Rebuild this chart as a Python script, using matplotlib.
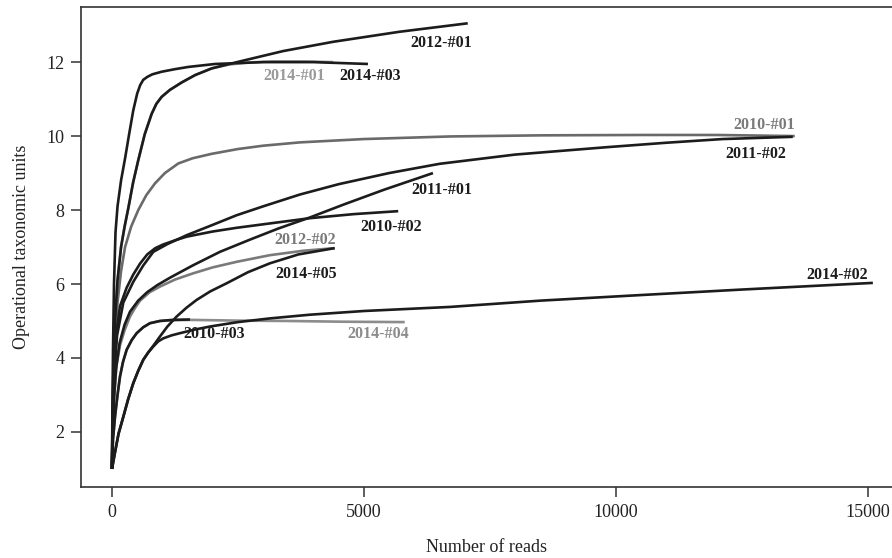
import numpy as np
import matplotlib
matplotlib.use("Agg")
import matplotlib.pyplot as plt

# ─── DATA ─────────────────────────────────────────────────────────────────────
SAMPLES = ["2014-#03", "2012-#01", "2014-#01", "2010-#01", "2011-#02", "2011-#01",
           "2010-#02", "2012-#02", "2014-#05", "2010-#03", "2014-#04", "2014-#02"]

READS = {
    "2014-#03": [0, 8, 20, 40, 70, 110, 180, 260, 340, 423, 500, 560, 620, 700, 800, 985,
                 1250, 1515, 2045, 3000, 4000, 5080],
    "2012-#01": [0, 10, 30, 60, 110, 180, 250, 324, 420, 522, 650, 787, 880, 985, 1150, 1383,
                 1650, 1978, 2540, 3400, 4390, 5700, 7060],
    "2014-#01": [0, 10, 30, 60, 110, 180, 250, 324, 420, 522, 650, 787, 880, 985, 1150, 1383,
                 1650, 1978, 2300, 2700, 3200, 3800, 4390],
    "2010-#01": [0, 10, 30, 60, 110, 180, 260, 380, 522, 680, 853, 1050, 1316, 1600, 1978,
                 2500, 3000, 3730, 5000, 6706, 8500, 10500, 12000, 13550],
    "2011-#02": [0, 15, 40, 100, 225, 423, 620, 820, 1100, 1482, 2000, 2474, 3000, 3730,
                 4500, 5500, 6500, 8000, 9820, 11000, 12120, 13510],
    "2011-#01": [0, 15, 40, 80, 150, 250, 357, 520, 700, 900, 1151, 1600, 2143, 2738, 3300,
                 3929, 4600, 5400, 6370],
    "2010-#02": [0, 15, 40, 90, 159, 291, 420, 556, 700, 860, 1018, 1250, 1482, 2000, 2474,
                 3200, 3929, 4800, 5680],
    "2012-#02": [0, 15, 40, 90, 160, 250, 357, 456, 556, 750, 952, 1250, 1613, 2000, 2474,
                 3135, 3800, 4420],
    "2014-#05": [0, 60, 130, 225, 320, 423, 520, 621, 720, 820, 952, 1100, 1283, 1480, 1680,
                 1950, 2276, 2700, 3135, 3700, 4420],
    "2010-#03": [0, 20, 60, 110, 159, 220, 291, 390, 490, 620, 754, 950, 1200, 1548],
    "2014-#04": [0, 20, 60, 110, 159, 220, 291, 390, 490, 620, 754, 950, 1200, 1548, 2500,
                 3500, 4600, 5810],
    "2014-#02": [0, 60, 130, 225, 320, 423, 520, 621, 720, 820, 920, 1018, 1180, 1349, 1650,
                 1944, 2500, 3135, 3929, 5000, 6706, 8500, 10480, 12500, 15100],
}

OTUS = {
    "2014-#03": [1, 2.5, 4.2, 6.0, 7.4, 8.1, 8.8, 9.4, 10.05, 10.7, 11.15, 11.38, 11.52, 11.6,
                 11.67, 11.74, 11.81, 11.87, 11.95, 12.0, 12.0, 11.95],
    "2012-#01": [1, 2.3, 3.8, 5.0, 6.1, 7.0, 7.55, 8.05, 8.75, 9.35, 10.05, 10.6, 10.87, 11.06,
                 11.25, 11.45, 11.65, 11.83, 12.02, 12.3, 12.55, 12.82, 13.05],
    "2014-#01": [1, 2.3, 3.8, 5.0, 6.1, 7.0, 7.55, 8.05, 8.75, 9.35, 10.05, 10.6, 10.87, 11.06,
                 11.25, 11.45, 11.65, 11.83, 11.93, 11.99, 12.02, 12.02, 12.0],
    "2010-#01": [1, 2.2, 3.4, 4.5, 5.5, 6.35, 7.0, 7.55, 8.0, 8.4, 8.72, 9.0, 9.26, 9.4, 9.52,
                 9.65, 9.74, 9.83, 9.92, 9.99, 10.02, 10.03, 10.03, 10.0],
    "2011-#02": [1, 2.2, 3.4, 4.6, 5.5, 6.06, 6.5, 6.87, 7.08, 7.32, 7.6, 7.86, 8.1, 8.42,
                 8.7, 9.0, 9.25, 9.5, 9.7, 9.82, 9.92, 9.98],
    "2011-#01": [1, 2.0, 2.9, 3.7, 4.4, 4.9, 5.25, 5.55, 5.78, 5.97, 6.17, 6.5, 6.87, 7.2, 7.5,
                 7.8, 8.15, 8.55, 9.0],
    "2010-#02": [1, 2.3, 3.6, 4.7, 5.4, 5.9, 6.25, 6.55, 6.8, 6.97, 7.07, 7.18, 7.28, 7.42,
                 7.52, 7.65, 7.78, 7.89, 7.97],
    "2012-#02": [1, 2.0, 2.9, 3.8, 4.35, 4.75, 5.12, 5.35, 5.55, 5.78, 5.93, 6.12, 6.29, 6.45,
                 6.6, 6.78, 6.9, 6.97],
    "2014-#05": [1, 1.45, 1.95, 2.41, 2.88, 3.32, 3.65, 3.95, 4.15, 4.33, 4.58, 4.85, 5.12,
                 5.36, 5.57, 5.8, 6.02, 6.32, 6.56, 6.8, 6.97],
    "2010-#03": [1, 1.8, 2.41, 3.0, 3.5, 3.9, 4.22, 4.48, 4.67, 4.83, 4.94, 5.0, 5.03, 5.04],
    "2014-#04": [1, 1.8, 2.41, 3.0, 3.5, 3.9, 4.22, 4.48, 4.67, 4.83, 4.94, 5.0, 5.02, 5.03,
                 5.01, 5.0, 4.98, 4.97],
    "2014-#02": [1, 1.45, 1.95, 2.41, 2.88, 3.32, 3.65, 3.95, 4.15, 4.31, 4.45, 4.53, 4.61,
                 4.67, 4.77, 4.85, 4.97, 5.07, 5.17, 5.27, 5.38, 5.55, 5.7, 5.85, 6.03],
}

LINE_COLORS = {
    "2014-#01": "#9a9a9a", "2010-#01": "#6a6a6a", "2012-#02": "#7a7a7a", "2014-#04": "#8c8c8c",
}

# label text position (reads, OTUs) and colour
LABEL_POS = {
    "2012-#01": (6537, 12.52), "2014-#01": (3611, 11.62), "2014-#03": (5119, 11.62),
    "2010-#01": (12945, 10.30), "2011-#02": (12787, 9.51), "2011-#01": (6541, 8.54),
    "2010-#02": (5549, 7.55), "2012-#02": (3843, 7.19), "2014-#05": (3863, 6.27),
    "2010-#03": (2037, 4.65), "2014-#04": (5277, 4.65), "2014-#02": (14394, 6.24),
}
LABEL_COLORS = {
    "2014-#01": "#9a9a9a", "2010-#01": "#7a7a7a", "2012-#02": "#7a7a7a", "2014-#04": "#8c8c8c",
}
# ──────────────────────────────────────────────────────────────────────────────

plt.rcParams["font.family"] = ["Liberation Serif", "DejaVu Serif"]

fig = plt.figure(figsize=(8.92, 5.58), dpi=100)
ax = fig.add_axes([0.0908, 0.1272, 0.9092, 0.8602])

# grey curves first, black ones on top
order = [s for s in SAMPLES if s in LINE_COLORS] + [s for s in SAMPLES if s not in LINE_COLORS]
for s in order:
    ax.plot(READS[s], OTUS[s], color=LINE_COLORS.get(s, "#1c1c1c"), linewidth=1.9,
            solid_joinstyle="round", solid_capstyle="butt")

for s in SAMPLES:
    x, y = LABEL_POS[s]
    ax.text(x, y, s, ha="center", va="center", fontsize=11.5, fontweight="bold",
            color=LABEL_COLORS.get(s, "#1c1c1c"))

ax.set_xlim(-615, 15480)
ax.set_ylim(0.51, 13.49)
ax.set_xticks([0, 5000, 10000, 15000])
ax.set_yticks([2, 4, 6, 8, 10, 12])
ax.spines["right"].set_visible(False)
for sp in ["left", "top", "bottom"]:
    ax.spines[sp].set_linewidth(1.2)
    ax.spines[sp].set_color("#333333")
ax.tick_params(direction="out", length=7, width=1.1, color="#333333",
               labelsize=13, labelcolor="#222222", pad=5)
ax.set_xlabel("Number of reads", fontsize=13, color="#222222", labelpad=13)
ax.set_ylabel("Operational taxonomic units", fontsize=13, color="#222222", labelpad=12)

fig.savefig("out.png", dpi=100)
